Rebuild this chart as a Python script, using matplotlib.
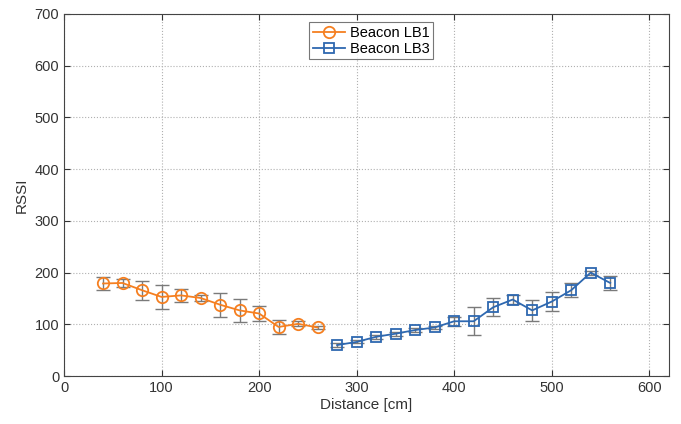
import matplotlib.pyplot as plt

plt.rcParams['font.family'] = ['Liberation Sans', 'DejaVu Sans']

# Beacon LB1
dist_lb1 = [40, 60, 80, 100, 120, 140, 160, 180, 200, 220, 240, 260]
rssi_lb1 = [179, 180, 166, 153, 156, 151, 138, 127, 121, 95, 101, 94]
err_lb1 = [12, 7, 18, 24, 13, 6, 23, 22, 14, 13, 5, 3]

# Beacon LB3
dist_lb3 = [280, 300, 320, 340, 360, 380, 400, 420, 440, 460, 480, 500, 520, 540, 560]
rssi_lb3 = [60, 66, 76, 82, 89, 94, 106, 106, 133, 148, 127, 144, 166, 200, 180]
err_lb3 = [3, 3, 4, 4, 4, 3, 9, 27, 17, 9, 20, 19, 14, 4, 14]

orange = '#F57F20'
blue = '#2E68B0'
errc = '#7a7a7a'

fig = plt.figure(figsize=(6.81, 4.24), dpi=100)
ax = fig.add_axes([0.094, 0.113, 0.888, 0.854])

ax.errorbar(dist_lb1, rssi_lb1, yerr=err_lb1, fmt='none', ecolor=errc,
            elinewidth=1.0, capsize=5, capthick=1.0, zorder=2)
ax.plot(dist_lb1, rssi_lb1, '-o', color=orange, lw=1.3, ms=8.2,
        mfc='none', mew=1.3, label='Beacon LB1', zorder=3)

ax.errorbar(dist_lb3, rssi_lb3, yerr=err_lb3, fmt='none', ecolor=errc,
            elinewidth=1.0, capsize=5, capthick=1.0, zorder=2)
ax.plot(dist_lb3, rssi_lb3, '-s', color=blue, lw=1.3, ms=7,
        mfc='none', mew=1.3, label='Beacon LB3', zorder=3)

ax.set_xlim(0, 620)
ax.set_ylim(0, 700)
ax.set_xticks([0, 100, 200, 300, 400, 500, 600])
ax.set_yticks([0, 100, 200, 300, 400, 500, 600, 700])
ax.grid(True, linestyle=':', color='#b0b0b0', lw=0.8)
ax.tick_params(direction='in', top=True, right=True, labelsize=10.5,
               colors='#333333', length=4)
for s in ax.spines.values():
    s.set_color('#444444')
    s.set_linewidth(0.8)

ax.set_xlabel('Distance [cm]', fontsize=11, color='#333333', labelpad=2)
ax.set_ylabel('RSSI', fontsize=11, color='#333333', labelpad=4)

leg = ax.legend(loc='upper center', bbox_to_anchor=(0.508, 0.99),
                fontsize=10.5, frameon=True, fancybox=False,
                edgecolor='#555555', handlelength=2.2, borderpad=0.25,
                labelspacing=0.15, handletextpad=0.3, borderaxespad=0.3)
leg.get_frame().set_linewidth(0.8)

fig.savefig('out.png', dpi=100, facecolor='white')
